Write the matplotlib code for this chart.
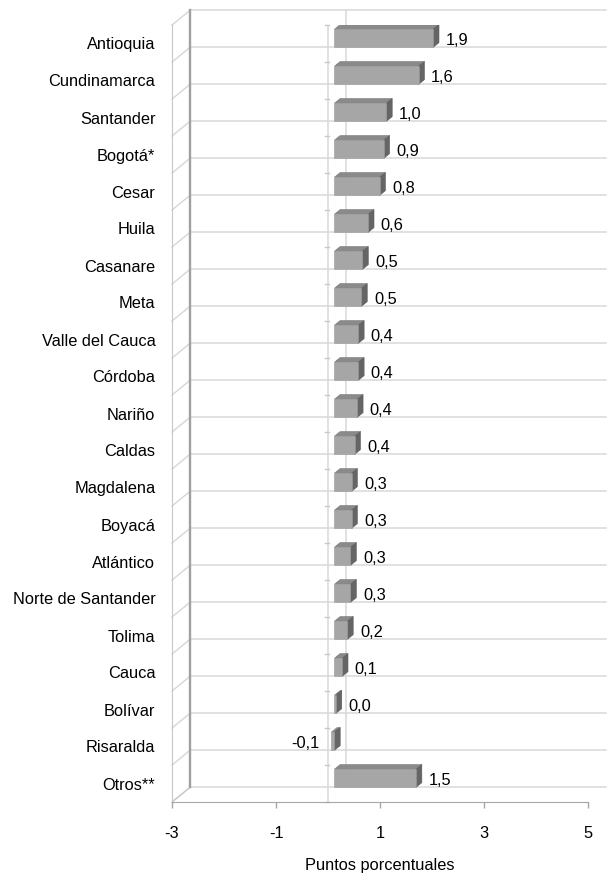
# -*- coding: utf-8 -*-
"""Contribución por departamento (puntos porcentuales), barras 3D estilo Excel."""

import matplotlib
matplotlib.use("Agg")
import matplotlib.pyplot as plt
from matplotlib.patches import Polygon

plt.rcParams['font.family'] = ['Liberation Sans', 'DejaVu Sans']

departamentos = ["Antioquia", "Cundinamarca", "Santander", "Bogotá*", "Cesar",
                 "Huila", "Casanare", "Meta", "Valle del Cauca", "Córdoba",
                 "Nariño", "Caldas", "Magdalena", "Boyacá", "Atlántico",
                 "Norte de Santander", "Tolima", "Cauca", "Bolívar",
                 "Risaralda", "Otros**"]
# bar lengths (unrounded)
valores = [1.90, 1.62, 1.00, 0.95, 0.87, 0.65, 0.54, 0.52, 0.46, 0.46,
           0.44, 0.39, 0.33, 0.33, 0.31, 0.31, 0.25, 0.15, 0.03, -0.06, 1.57]
# printed data labels
etiquetas = ["1,9", "1,6", "1,0", "0,9", "0,8", "0,6", "0,5", "0,5", "0,4",
             "0,4", "0,4", "0,4", "0,3", "0,3", "0,3", "0,3", "0,2", "0,1",
             "0,0", "-0,1", "1,5"]
xticks = [-3, -1, 1, 3, 5]

# 3D look: depth offset of the back wall (value units, category units)
DX, DY = 0.35, 0.40
F0, F1 = 0.35, 0.67      # bar front / back depth fractions
HALF = 0.245             # half bar thickness
GRID = '#d9d9d9'
FONT = 11.8

n = len(departamentos)
xmin, xmax = xticks[0], xticks[-1]

fig = plt.figure(figsize=(6.09, 8.75), dpi=100)
ax = fig.add_axes([172 / 609, 73 / 875, 416 / 609, 777 / 875])
ax.set_xlim(xmin, xmax)
ax.set_ylim(n, 0)

# back wall: category gridlines + vertical line at zero
for k in range(n + 1):
    ax.plot([xmin + DX, xmax + DX], [k - DY, k - DY], color=GRID, lw=1.1,
            clip_on=False, zorder=1)
ax.plot([DX, DX], [-DY, n - DY], color=GRID, lw=1.1, clip_on=False, zorder=1)

# left wall
ax.plot([xmin + DX, xmin + DX], [-DY, n - DY], color='#a0a0a0', lw=1.7,
        clip_on=False, zorder=2)
for k in range(n + 1):
    ax.plot([xmin, xmin + DX], [k, k - DY], color=GRID if k < n else '#c8c8c8',
            lw=1.1, clip_on=False, zorder=1)

# category axis at zero (front) with tick marks
ax.plot([0, 0], [0, n], color=GRID, lw=1.1, zorder=2)
for k in range(n + 1):
    ax.plot([-0.05, 0.02], [k, k], color='#c8c8c8', lw=1.0, clip_on=False,
            zorder=2)

# bars
for i, v in enumerate(valores):
    lo, hi = min(0, v), max(0, v)
    yc = i + 0.5
    top, bot = yc - HALF, yc + HALF
    ox0, oy0 = F0 * DX, -F0 * DY
    ox1, oy1 = F1 * DX, -F1 * DY
    front = [(lo + ox0, top + oy0), (hi + ox0, top + oy0),
             (hi + ox0, bot + oy0), (lo + ox0, bot + oy0)]
    topf = [(lo + ox0, top + oy0), (hi + ox0, top + oy0),
            (hi + ox1, top + oy1), (lo + ox1, top + oy1)]
    side = [(hi + ox0, top + oy0), (hi + ox1, top + oy1),
            (hi + ox1, bot + oy1), (hi + ox0, bot + oy0)]
    ax.add_patch(Polygon(topf, closed=True, fc='#8a8a8a', ec='#7a7a7a',
                         lw=0.4, zorder=3))
    ax.add_patch(Polygon(side, closed=True, fc='#656565', ec='#5a5a5a',
                         lw=0.4, zorder=3))
    ax.add_patch(Polygon(front, closed=True, fc='#a6a6a6', ec='#9a9a9a',
                         lw=0.4, zorder=4))
    ty = yc + oy0 + 0.06
    if v >= 0:
        ax.text(hi + ox1 + 0.13, ty, etiquetas[i], ha='left', va='center',
                fontsize=FONT, zorder=5)
    else:
        ax.text(lo + ox0 - 0.22, ty, etiquetas[i], ha='right', va='center',
                fontsize=FONT, zorder=5)

# axes
ax.set_yticks([i + 0.5 for i in range(n)])
ax.set_yticklabels(departamentos, fontsize=FONT)
ax.tick_params(axis='y', length=0, pad=12)
ax.set_xticks(xticks)
ax.set_xticklabels([str(t) for t in xticks], fontsize=FONT)
ax.tick_params(axis='x', length=4.5, width=1.0, color='#a6a6a6', pad=13)
ax.set_xlabel("Puntos porcentuales", fontsize=FONT, labelpad=12)

for s in ['top', 'right']:
    ax.spines[s].set_visible(False)
ax.spines['bottom'].set_color('#a6a6a6')
ax.spines['left'].set_color('#c8c8c8')
ax.patch.set_alpha(0)

fig.savefig("out.png", dpi=100)
